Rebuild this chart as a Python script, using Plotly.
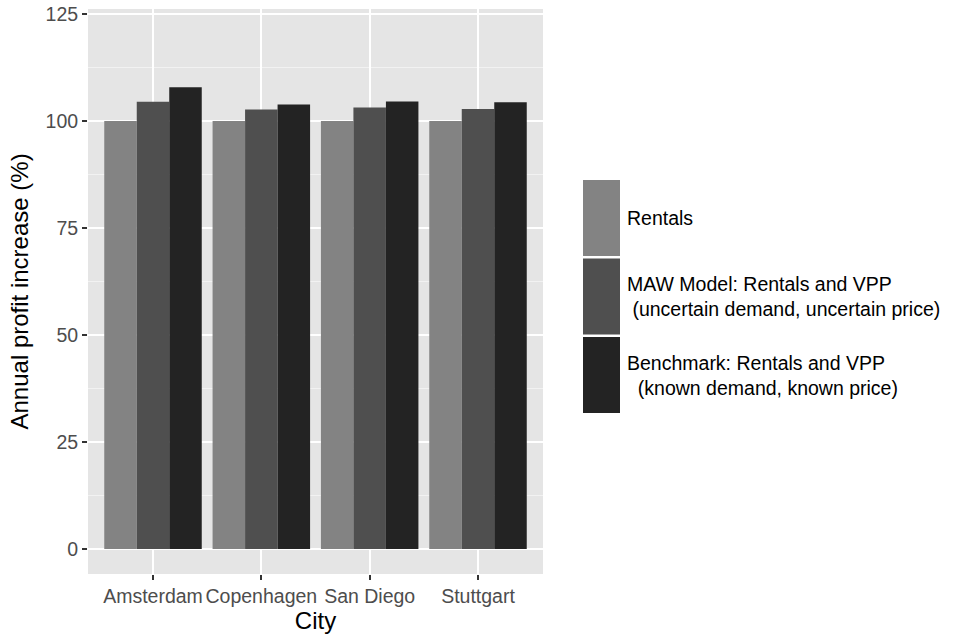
import plotly.graph_objects as go

cities = ["Amsterdam", "Copenhagen", "San Diego", "Stuttgart"]
series_names = [
    "Rentals",
    "MAW Model: Rentals and VPP<br>\u00a0(uncertain demand, uncertain price)",
    "Benchmark: Rentals and VPP<br>\u00a0\u00a0(known demand, known price)",
]
rentals = [100.0, 100.0, 100.0, 100.0]
maw_model = [104.5, 102.7, 103.2, 102.8]
benchmark = [107.9, 103.9, 104.6, 104.4]
bar_colors = ["#838383", "#4f4f4f", "#232323"]

W, H = 954, 636
L, R, T, B = 88, 411, 9, 62


def px_x(x):
    # window pixel -> paper coordinate
    return (x - L) / (W - L - R)


def px_y(y):
    return 1 - (y - T) / (H - T - B)


fig = go.Figure()
for name, vals, col in zip(series_names, [rentals, maw_model, benchmark], bar_colors):
    fig.add_trace(go.Bar(
        x=cities,
        y=vals,
        name=name,
        marker_color=col,
        marker_line_width=0,
        showlegend=False))

# ggplot-style legend with tall keys
key_top = 180
key_h = 76
key_gap = 2.5
for i, (name, col) in enumerate(zip(series_names, bar_colors)):
    y0 = key_top + i * (key_h + key_gap)
    fig.add_shape(type="rect", xref="paper", yref="paper",
                  x0=px_x(583), x1=px_x(620),
                  y0=px_y(y0 + key_h), y1=px_y(y0),
                  fillcolor=col, line_width=0)
    fig.add_annotation(xref="paper", yref="paper",
                       x=px_x(625), y=px_y(y0 + key_h / 2),
                       text=name, showarrow=False,
                       xanchor="left", yanchor="middle", align="left",
                       font=dict(size=19.5, color="black"))

# y axis title as annotation so it can sit close to the edge
fig.add_annotation(xref="paper", yref="paper",
                   x=px_x(19), y=0.5,
                   text="Annual profit increase (%)", textangle=-90,
                   showarrow=False, xanchor="center", yanchor="middle",
                   borderpad=0,
                   font=dict(size=24, color="black"))

fig.update_layout(
    width=W, height=H,
    margin=dict(l=L, r=R, t=T, b=B),
    paper_bgcolor="white",
    plot_bgcolor="#e5e5e5",
    barmode="group",
    bargap=0.1,
    bargroupgap=0,
    font=dict(family="Liberation Sans, Arial, sans-serif"),
)

fig.update_xaxes(
    range=[-0.6, 3.6],
    tickangle=0,
    showgrid=True, gridcolor="white", gridwidth=2,
    ticks="outside", ticklen=5, tickcolor="#333333", tickwidth=1.5,
    tickfont=dict(size=19.5, color="#4d4d4d"),
    title=dict(text="City", font=dict(size=24, color="black"), standoff=4),
    zeroline=False, showline=False, automargin=False)

fig.update_yaxes(
    range=[-5.86, 126.2],
    tickvals=[0, 25, 50, 75, 100, 125],
    ticklabeloverflow="allow",
    showgrid=True, gridcolor="white", gridwidth=2,
    minor=dict(tickvals=[12.5, 37.5, 62.5, 87.5, 112.5],
               showgrid=True, gridcolor="#f2f2f2", gridwidth=1),
    ticks="outside", ticklen=5, tickcolor="#333333", tickwidth=1.5,
    tickfont=dict(size=19.5, color="#4d4d4d"),
    zeroline=False, showline=False, automargin=False)

# drop the default page margin so the figure fills the window exactly
fig.write_html("out.html", config={"displayModeBar": False},
               post_script="document.body.style.margin='0';")
